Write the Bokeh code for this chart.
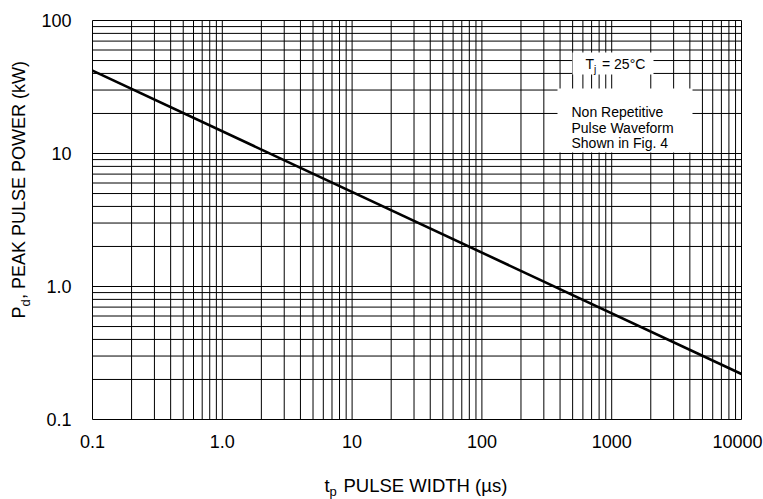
import math
from bokeh.plotting import figure
from bokeh.models import Range1d, Label, BoxAnnotation, ColumnDataSource
from bokeh.core.properties import value
from bokeh.embed import file_html
from bokeh.resources import INLINE

# ---- data ----
pulse_width_us = [0.1, 10000]
peak_power_kw = [42, 0.22]

x_tick_values = [0.1, 1, 10, 100, 1000, 10000]
x_tick_labels = ["0.1", "1.0", "10", "100", "1000", "10000"]
y_tick_values = [0.1, 1, 10, 100]
y_tick_labels = ["0.1", "1.0", "10", "100"]

x_grid_values = [m * 10.0 ** e for e in range(-1, 4) for m in range(1, 10)] + [10000]
y_grid_values = [m * 10.0 ** e for e in range(-1, 2) for m in range(1, 10)] + [100]

X_MIN, X_MAX = 0.1, 10000
Y_MIN, Y_MAX = 0.1, 100

FONT = "Liberation Sans"
W, H = 763, 499
MID = 0.36  # cap-centre height above the baseline, as a fraction of the font size

# pixel geometry of the plotting area inside the canvas
PX_L, PX_R, PX_T, PX_B = 92, 741, 20, 419
DX = (PX_R - PX_L) / math.log10(X_MAX / X_MIN)
DY = (PX_B - PX_T) / math.log10(Y_MAX / Y_MIN)


def xd(px):
    return 10 ** (math.log10(X_MIN) + (px - PX_L) / DX)


def yd(py):
    return 10 ** (math.log10(Y_MIN) + (PX_B - py) / DY)


# the frame covers the whole canvas so that every text can be drawn freely
p = figure(
    width=W, height=H,
    x_axis_type="log", y_axis_type="log",
    x_range=Range1d(xd(0), xd(W)), y_range=Range1d(yd(H), yd(0)),
    x_axis_location=None, y_axis_location=None,
    output_backend="svg", toolbar_location=None,
    min_border=0,
)
p.background_fill_color = "white"
p.border_fill_color = "white"
p.outline_line_color = None
p.xgrid.visible = False
p.ygrid.visible = False

# grid
p.segment(x0=x_grid_values, x1=x_grid_values,
          y0=[Y_MIN] * len(x_grid_values), y1=[Y_MAX] * len(x_grid_values),
          line_color="black", line_width=1)
p.segment(x0=[X_MIN] * len(y_grid_values), x1=[X_MAX] * len(y_grid_values),
          y0=y_grid_values, y1=y_grid_values,
          line_color="black", line_width=1)

# curve
p.line(pulse_width_us, peak_power_kw, line_color="black", line_width=2.6)

# tick labels
x_label_shift = [0, 0, 0, 0, 0, -4]
xsrc = ColumnDataSource(dict(x=x_tick_values, y=[yd(447 - MID * 18)] * len(x_tick_values),
                             t=x_tick_labels, dx=x_label_shift))
p.text(x="x", y="y", text="t", x_offset="dx", source=xsrc,
       text_font=value(FONT), text_font_size="18px", text_color="black",
       text_align="center", text_baseline="middle")
p.text(x=[xd(71)] * len(y_tick_values), y=y_tick_values, text=y_tick_labels,
       text_font=value(FONT), text_font_size="18px", text_color="black",
       text_align="right", text_baseline="middle")


def lab(px, py, text, size, angle=0.0):
    """(px, py) is the start of the text's baseline in canvas pixels."""
    if angle:
        px -= MID * size
    else:
        py -= MID * size
    p.add_layout(Label(
        x=xd(px), y=yd(py), text=text, angle=angle,
        text_font=FONT, text_font_size=f"{size}px", text_color="black",
        text_align="left", text_baseline="middle",
    ))


# annotation boxes
p.add_layout(BoxAnnotation(left=xd(572), right=xd(653), top=yd(52), bottom=yd(74),
                           fill_color="white", fill_alpha=1.0, line_color=None))
p.add_layout(BoxAnnotation(left=xd(557), right=xd(692), top=yd(88), bottom=yd(152),
                           fill_color="white", fill_alpha=1.0, line_color=None))

lab(585, 68.5, "T", 14)
lab(593.5, 72.5, "j", 10)
lab(601.5, 68.5, "= 25°C", 14)

lab(571, 117, "Non Repetitive", 14)
lab(571, 132.5, "Pulse Waveform", 14)
lab(571, 148, "Shown in Fig. 4", 14)

# x axis title
lab(324, 491.5, "t", 18.5)
lab(329, 495.5, "p", 13)
lab(343, 491.5, "PULSE WIDTH (µs)", 18.5)

# y axis title (rotated)
half_pi = math.pi / 2
lab(25, 318, "P", 18, half_pi)
lab(30, 306, "d", 13, half_pi)
lab(25, 298.5, ", PEAK PULSE POWER (kW)", 18, half_pi)

open("out.html", "w").write(file_html(p, INLINE))
